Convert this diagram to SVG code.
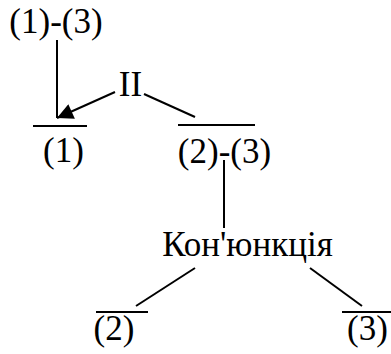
<svg xmlns="http://www.w3.org/2000/svg" width="391" height="354" viewBox="0 0 391 354">
<style>
text{font-family:"Liberation Serif","Times New Roman",serif;font-size:35px;fill:#000;text-anchor:middle}
.ln{stroke:#000;stroke-width:2;fill:none}
</style>
<defs>
<marker id="ah" viewBox="0 0 10 10" refX="10" refY="5" markerWidth="10" markerHeight="8" markerUnits="strokeWidth" orient="auto">
<path d="M0,0 L10,5 L0,10 z" fill="#000"/>
</marker>
</defs>
<rect width="391" height="354" fill="#fff"/>
<g id="connectors">
<line class="ln" x1="57" y1="40" x2="57" y2="118"/>
<line class="ln" x1="115" y1="92" x2="57" y2="118" marker-end="url(#ah)"/>
<line class="ln" x1="144" y1="94" x2="195" y2="117"/>
<line class="ln" x1="224" y1="160" x2="224" y2="228"/>
<line class="ln" x1="195" y1="268" x2="136" y2="306"/>
<line class="ln" x1="310" y1="268" x2="362" y2="306"/>
</g>
<g id="n13"><text x="56" y="33">(1)-(3)</text></g>
<g id="nII"><text x="130.5" y="96">II</text></g>
<g id="n1"><line class="ln" x1="33" y1="126" x2="87" y2="126"/><text x="63.5" y="162">(1)</text></g>
<g id="n23"><line class="ln" x1="178" y1="125" x2="255" y2="125"/><text x="224.5" y="163">(2)-(3)</text></g>
<g id="nK"><text x="247.5" y="256">Кон'юнкція</text></g>
<g id="n2"><line class="ln" x1="96" y1="312" x2="148" y2="312"/><text x="114" y="340">(2)</text></g>
<g id="n3"><line class="ln" x1="342" y1="312" x2="391" y2="312"/><text x="367.5" y="340">(3)</text></g>
</svg>
